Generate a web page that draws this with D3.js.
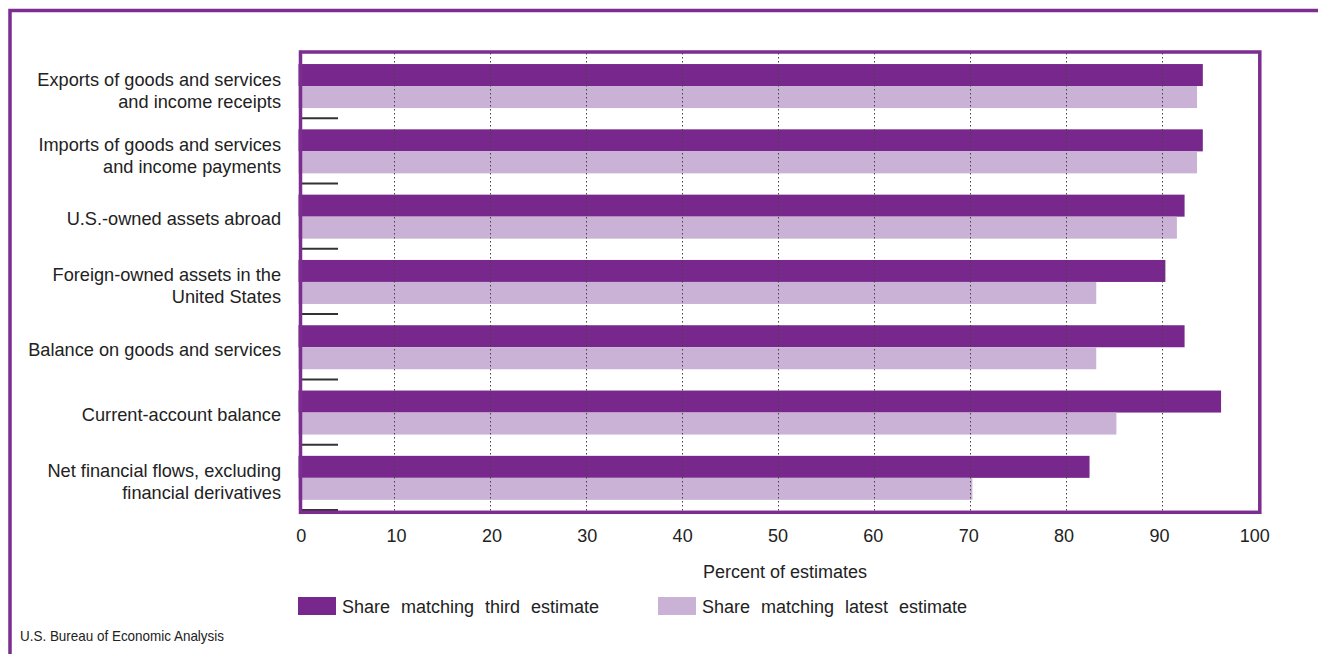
<!DOCTYPE html>
<html>
<head>
<meta charset="utf-8">
<script src="https://cdn.jsdelivr.net/npm/d3@7"></script>
<style>
  body { margin: 0; background: #fff; }
  svg text { font-family: "Liberation Sans", Arial, sans-serif; fill: #222; }
</style>
</head>
<body>
<div id="chart"></div>
<script>
// data
const categories = [
  ['Exports of goods and services', 'and income receipts'],
  ['Imports of goods and services', 'and income payments'],
  ['U.S.-owned assets abroad'],
  ['Foreign-owned assets in the', 'United States'],
  ['Balance on goods and services'],
  ['Current-account balance'],
  ['Net financial flows, excluding', 'financial derivatives']
];
const thirdEstimate = [94.2, 94.2, 92.3, 90.3, 92.3, 96.1, 82.4];
const latestEstimate = [93.6, 93.6, 91.5, 83.1, 83.1, 85.2, 70.2];
const xTicks = [0, 10, 20, 30, 40, 50, 60, 70, 80, 90, 100];
const seriesNames = ['Share matching third estimate', 'Share matching latest estimate'];

const width = 1318, height = 654;
const dark = '#78288c', light = '#c9b2d6', frame = '#7b2d90';

const svg = d3.select('#chart').append('svg')
  .attr('width', width)
  .attr('height', height);

// outer frame (top and left only)
svg.append('path')
  .attr('d', `M10,${height} L10,10.5 L${width},10.5`)
  .attr('fill', 'none')
  .attr('stroke', frame)
  .attr('stroke-width', 3.5);

let x = d3.scaleLinear().domain([0, 100]).range([298.5, 1258.5]);
// tick labels sit on a slightly tighter spacing in the original
let xLabel = d3.scaleLinear().domain([0, 100]).range([300.7, 1254.3]);

let y = d3.scaleBand()
  .domain(d3.range(categories.length))
  .range([53.4, 510.5])
  .paddingInner(0.326)
  .paddingOuter(0.163);

let step = y.step();

// bars
let bars = svg.append('g');
bars.selectAll('.third')
  .data(thirdEstimate)
  .enter().append('rect')
  .attr('x', x(0))
  .attr('y', (d, i) => y(i))
  .attr('width', d => x(d) - x(0))
  .attr('height', y.bandwidth() / 2)
  .attr('fill', dark);

bars.selectAll('.latest')
  .data(latestEstimate)
  .enter().append('rect')
  .attr('x', x(0))
  .attr('y', (d, i) => y(i) + y.bandwidth() / 2)
  .attr('width', d => x(d) - x(0))
  .attr('height', y.bandwidth() / 2)
  .attr('fill', light);

// dotted gridlines, drawn over the bars
svg.append('g')
  .selectAll('line')
  .data(xTicks.slice(1, -1))
  .enter().append('line')
  .attr('x1', d => x(d))
  .attr('x2', d => x(d))
  .attr('y1', 53)
  .attr('y2', 511)
  .attr('stroke', '#444')
  .attr('stroke-width', 1)
  .attr('stroke-dasharray', '1.5,2.5');

// short marks between the groups
svg.append('g')
  .selectAll('line')
  .data(d3.range(1, categories.length + 1))
  .enter().append('line')
  .attr('x1', 302)
  .attr('x2', 338)
  .attr('y1', i => 53.4 + step * i - 0.5)
  .attr('y2', i => 53.4 + step * i - 0.5)
  .attr('stroke', '#333')
  .attr('stroke-width', 2);

// plot box
svg.append('rect')
  .attr('x', 300.5)
  .attr('y', 52)
  .attr('width', 1259.8 - 300.5)
  .attr('height', 512.3 - 52)
  .attr('fill', 'none')
  .attr('stroke', frame)
  .attr('stroke-width', 3.5);

// x axis labels
let xAxis = d3.axisBottom(xLabel)
  .tickValues(xTicks)
  .tickSize(0)
  .tickPadding(0);

let axisG = svg.append('g')
  .attr('transform', 'translate(0, 529)')
  .call(xAxis);
axisG.select('.domain').remove();
axisG.selectAll('text')
  .style('font-size', '18px')
  .style('font-family', '"Liberation Sans", Arial, sans-serif')
  .attr('fill', '#222');

svg.append('text')
  .attr('x', 785)
  .attr('y', 578)
  .attr('text-anchor', 'middle')
  .style('font-size', '18px')
  .text('Percent of estimates');

// category labels
let labels = svg.append('g')
  .selectAll('text')
  .data(categories)
  .enter().append('text')
  .attr('text-anchor', 'end')
  .style('font-size', '18.2px')
  .attr('y', (d, i) => y(i) + y.bandwidth() / 2 + 1.5);

labels.selectAll('tspan')
  .data(d => d.map(t => ({t: t, n: d.length})))
  .enter().append('tspan')
  .attr('x', 281)
  .attr('dy', (d, j) => d.n === 1 ? 7 : (j === 0 ? -2 : 22))
  .text(d => d.t);

// legend
const legendX = [298, 658];
let legend = svg.append('g')
  .selectAll('g')
  .data(seriesNames)
  .enter().append('g')
  .attr('transform', (d, i) => `translate(${legendX[i]}, 597)`);

legend.append('rect')
  .attr('width', 38)
  .attr('height', 18)
  .attr('fill', (d, i) => i === 0 ? dark : light);

legend.append('text')
  .attr('x', 44)
  .attr('y', 15.5)
  .style('font-size', '18px')
  .style('word-spacing', '6px')
  .text(d => d);

// source
svg.append('text')
  .attr('x', 20)
  .attr('y', 641)
  .attr('textLength', 204)
  .attr('lengthAdjust', 'spacingAndGlyphs')
  .style('font-size', '15px')
  .text('U.S. Bureau of Economic Analysis');
</script>
</body>
</html>
